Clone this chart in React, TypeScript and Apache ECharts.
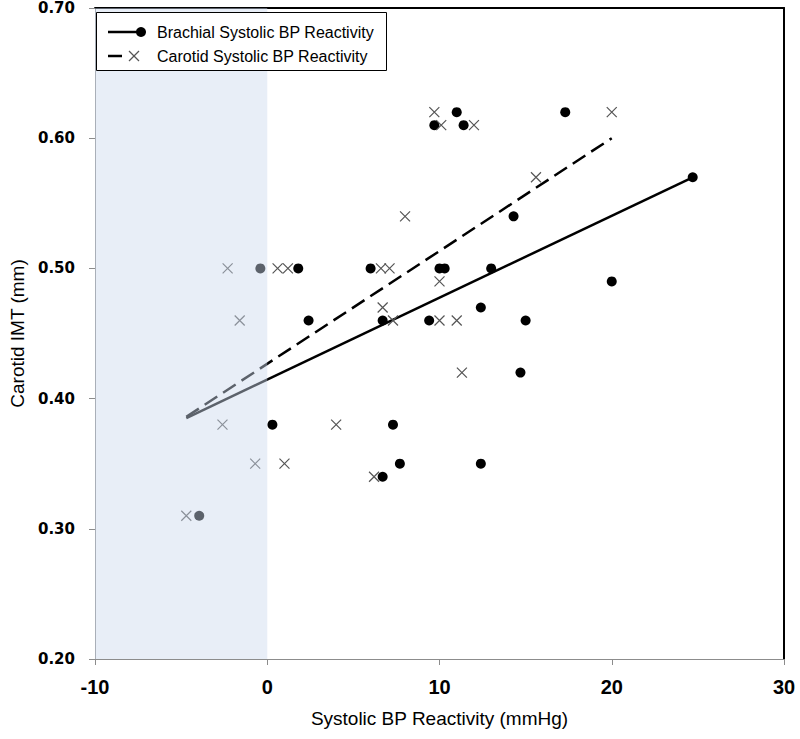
import React, { useEffect, useRef } from "react";
import * as echarts from "echarts";

// Brachial systolic BP reactivity points (x: mmHg, y: carotid IMT mm)
const brachialX = [-3.95, -0.4, 1.8, 6.0, 10.0, 10.3, 13.0, 12.4, 2.4, 6.7, 9.4, 15.0, 14.7, 20.0, 24.7, 14.3, 11.0, 9.7, 11.4, 17.3, 0.3, 7.3, 7.7, 12.4, 6.7];
const brachialY = [0.31, 0.5, 0.5, 0.5, 0.5, 0.5, 0.5, 0.47, 0.46, 0.46, 0.46, 0.46, 0.42, 0.49, 0.57, 0.54, 0.62, 0.61, 0.61, 0.62, 0.38, 0.38, 0.35, 0.35, 0.34];

// Carotid systolic BP reactivity points
const carotidX = [-4.7, -2.3, -1.6, -2.6, -0.7, 1.0, 4.0, 6.2, 0.6, 1.2, 6.6, 7.1, 10.0, 6.7, 7.3, 10.0, 11.0, 11.3, 8.0, 9.7, 10.1, 12.0, 15.6, 20.0];
const carotidY = [0.31, 0.5, 0.46, 0.38, 0.35, 0.35, 0.38, 0.34, 0.5, 0.5, 0.5, 0.5, 0.49, 0.47, 0.46, 0.46, 0.46, 0.42, 0.54, 0.62, 0.61, 0.61, 0.57, 0.62];

// Linear trend lines (end points)
const brachialFitX = [-4.7, 24.7];
const brachialFitY = [0.385, 0.57];
const carotidFitX = [-4.7, 20.0];
const carotidFitY = [0.386, 0.6];

// Shaded region (negative reactivity)
const shadeRange = [-10, 0];

// Axes
const xTicks = { min: -10, max: 30, interval: 10 };
const yTicks = { min: 0.2, max: 0.7, interval: 0.1 };

const seriesNames = ["Brachial Systolic BP Reactivity", "Carotid Systolic BP Reactivity"];

const crossPath = "path://M0,0L10,10M10,0L0,10";

export default function App() {
  const ref = useRef<HTMLDivElement>(null);
  useEffect(() => {
    if (!ref.current) return;
    const chart = echarts.init(ref.current, null, { renderer: "svg" });
    const zip = (xs: number[], ys: number[]) => xs.map((x, i) => [x, ys[i]]);
    const labelFont = "'Liberation Sans', Arial, sans-serif";
    const LZ = 50;
    chart.setOption({
      animation: false,
      backgroundColor: "#ffffff",
      grid: { left: 95, right: 16, top: 8, bottom: 80 },
      xAxis: [
        {
          type: "value",
          position: "bottom",
          min: xTicks.min,
          max: xTicks.max,
          interval: xTicks.interval,
          axisLine: { show: true, lineStyle: { color: "#8c8c8c", width: 1 } },
          axisTick: { show: true, inside: false, length: 6, lineStyle: { color: "#8c8c8c" } },
          splitLine: { show: false },
          axisLabel: { color: "#000", fontSize: 20, fontWeight: "bold", fontFamily: labelFont, margin: 18 },
          name: "Systolic BP Reactivity (mmHg)",
          nameLocation: "middle",
          nameGap: 50,
          nameTextStyle: { color: "#000", fontSize: 19, fontFamily: labelFont },
        },
        {
          type: "value",
          position: "top",
          min: xTicks.min,
          max: xTicks.max,
          axisLine: { show: true, onZero: false, lineStyle: { color: "#000", width: 2 } },
          axisTick: { show: false },
          axisLabel: { show: false },
          splitLine: { show: false },
        },
      ],
      yAxis: [
        {
          type: "value",
          position: "left",
          min: yTicks.min,
          max: yTicks.max,
          interval: yTicks.interval,
          axisLine: { show: true, onZero: false, lineStyle: { color: "#8c8c8c", width: 1 } },
          axisTick: { show: true, inside: false, length: 6, lineStyle: { color: "#8c8c8c" } },
          splitLine: { show: false },
          axisLabel: {
            color: "#000",
            fontSize: 15,
            fontWeight: "bold",
            fontFamily: "'DejaVu Sans', Verdana, sans-serif",
            margin: 20,
            formatter: (v: number) => v.toFixed(2),
          },
          name: "Carotid IMT (mm)",
          nameLocation: "middle",
          nameGap: 56,
          nameTextStyle: { color: "#000", fontSize: 19, fontFamily: labelFont },
        },
        {
          type: "value",
          position: "right",
          min: yTicks.min,
          max: yTicks.max,
          axisLine: { show: true, onZero: false, lineStyle: { color: "#000", width: 2 } },
          axisTick: { show: false },
          axisLabel: { show: false },
          splitLine: { show: false },
        },
      ],
      series: [
        {
          name: seriesNames[0] + " trend",
          type: "line",
          data: zip(brachialFitX, brachialFitY),
          showSymbol: false,
          symbol: "none",
          lineStyle: { color: "#000", width: 2.5, type: "solid" },
          z: 3,
          silent: true,
        },
        {
          name: seriesNames[1] + " trend",
          type: "line",
          data: zip(carotidFitX, carotidFitY),
          showSymbol: false,
          symbol: "none",
          lineStyle: { color: "#000", width: 2.5, type: [15, 7] },
          z: 3,
          silent: true,
        },
        {
          name: seriesNames[0],
          type: "scatter",
          data: zip(brachialX, brachialY),
          symbol: "circle",
          symbolSize: 10,
          itemStyle: { color: "#000", opacity: 1 },
          z: 4,
        },
        {
          name: seriesNames[1],
          type: "scatter",
          data: zip(carotidX, carotidY),
          symbol: crossPath,
          symbolSize: 10,
          itemStyle: { color: "rgba(0,0,0,0)", borderColor: "#555", borderWidth: 1.2, opacity: 1 },
          z: 4,
        },
        {
          name: "shade",
          type: "custom",
          silent: true,
          z: 10,
          data: [[shadeRange[0], shadeRange[1]]],
          renderItem: (params: any, api: any) => {
            const p0 = api.coord([api.value(0), yTicks.max]);
            const p1 = api.coord([api.value(1), yTicks.min]);
            return {
              type: "rect",
              shape: { x: p0[0], y: p0[1], width: p1[0] - p0[0], height: p1[1] - p0[1] },
              style: { fill: "rgba(205,217,237,0.45)" },
            };
          },
        },
      ],
      graphic: [
        {
          type: "rect",
          z: LZ,
          shape: { x: 96.5, y: 12.5, width: 290, height: 58 },
          style: { fill: "#fff", stroke: "#000", lineWidth: 1 },
        },
        {
          type: "line",
          z: LZ + 1,
          shape: { x1: 108, y1: 32, x2: 142, y2: 32 },
          style: { stroke: "#000", lineWidth: 2.5 },
        },
        { type: "circle", z: LZ + 1, shape: { cx: 141, cy: 32, r: 5 }, style: { fill: "#000" } },
        {
          type: "text",
          z: LZ + 1,
          x: 157,
          y: 32,
          style: { text: seriesNames[0], fill: "#000", fontSize: 16, fontFamily: labelFont, verticalAlign: "middle" },
        },
        {
          type: "line",
          z: LZ + 1,
          shape: { x1: 108, y1: 56, x2: 122, y2: 56 },
          style: { stroke: "#000", lineWidth: 2.5 },
        },
        { type: "line", z: LZ + 1, shape: { x1: 129, y1: 51, x2: 139, y2: 61 }, style: { stroke: "#555", lineWidth: 1.2 } },
        { type: "line", z: LZ + 1, shape: { x1: 139, y1: 51, x2: 129, y2: 61 }, style: { stroke: "#555", lineWidth: 1.2 } },
        {
          type: "text",
          z: LZ + 1,
          x: 157,
          y: 56,
          style: { text: seriesNames[1], fill: "#000", fontSize: 16, fontFamily: labelFont, verticalAlign: "middle" },
        },
      ],
    });
    return () => chart.dispose();
  }, []);
  return (
    <div
      ref={ref}
      style={{ position: "fixed", left: 0, top: 0, width: 800, height: 739, background: "#fff" }}
    />
  );
}
